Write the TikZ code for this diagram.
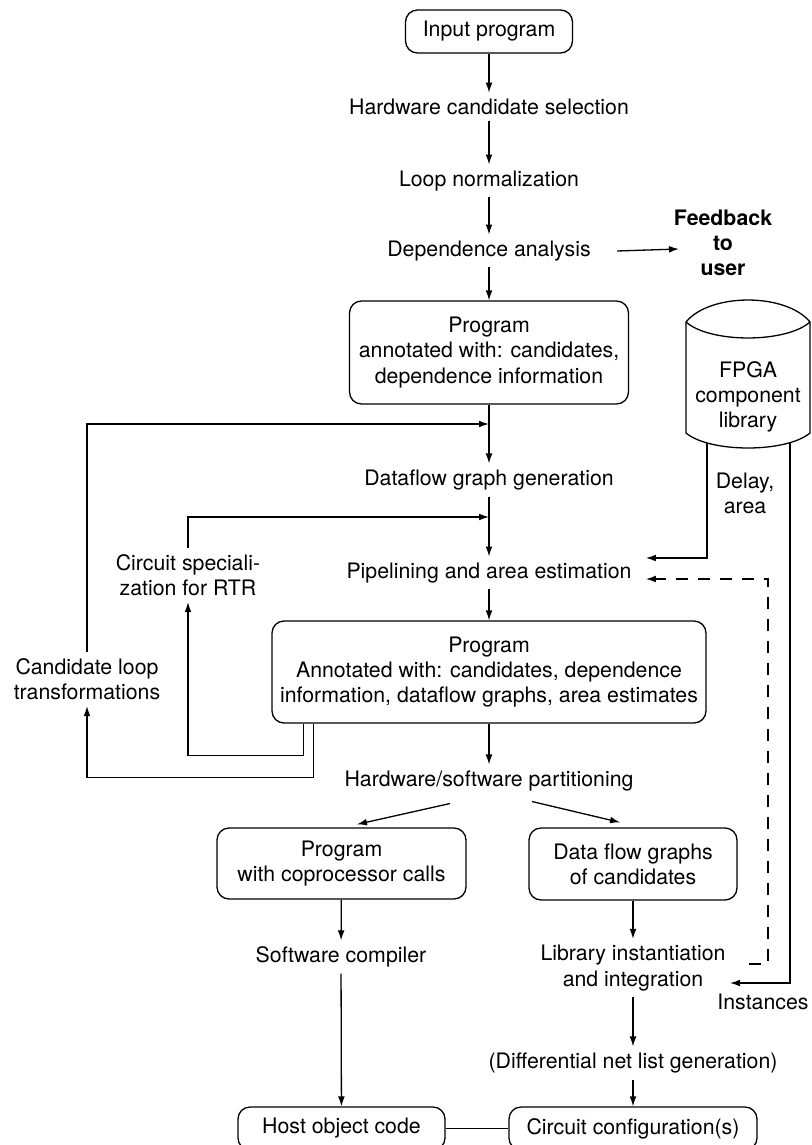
\documentclass[tikz,border=0pt]{standalone}
\usepackage{fontspec}
\setmainfont{TeX Gyre Heros}
\usetikzlibrary{arrows.meta,calc}
\tikzset{
  rbox/.style  = {rectangle, rounded corners=6pt, draw, line width=0.65pt, align=center},
  stage/.style = {align=center, inner sep=3pt},
  flow/.style  = {line width=0.65pt, -{Latex[length=5pt,width=3.4pt]}},
  wire/.style  = {line width=0.65pt},
  fbk/.style   = {flow, dash pattern=on 6pt off 5pt}
}

\begin{document}
\begin{tikzpicture}[x=0.5pt, y=-0.5pt, font=\fontsize{10.65}{12.6}\selectfont]
  \useasboundingbox (0,0) rectangle (811,1145);
  % main column
  \node[rbox, minimum width=83.5pt, minimum height=21.5pt] (inp) at (489,31.5) {Input program};
  \node[stage] (hwsel) at (489,107) {Hardware candidate selection};
  \node[stage] (loopn) at (489,181) {Loop normalization};
  \node[stage] (depan) at (489,251) {Dependence analysis};
  \node[stage, font=\fontsize{10.65}{12.6}\selectfont\bfseries] (fback) at (723,243) {Feedback\\to\\user};
  \node[rbox, minimum width=139.5pt, minimum height=51.5pt] (prog1) at (489,352.5)
       {Program\\annotated with: candidates,\\dependence information};
  \node[stage] (dfg)   at (489,480) {Dataflow graph generation};
  \node[stage] (pipe)  at (489,573) {Pipelining and area estimation};
  \node[rbox, minimum width=217pt, minimum height=51pt] (prog2) at (489,672)
       {Program\\Annotated with: candidates, dependence\\information, dataflow graphs, area estimates};
  \node[stage] (cspec) at (188,575) {Circuit speciali-\\zation for RTR};
  \node[stage] (cloop) at (87,679)  {Candidate loop\\transformations};
  \node[stage] (hwsw)  at (489,781) {Hardware/software partitioning};
  % software and hardware branches
  \node[rbox, minimum width=124.5pt, minimum height=35.5pt] (progc) at (341.5,863.5) {Program\\with coprocessor calls};
  \node[rbox, minimum width=104pt, minimum height=36pt] (dfgc) at (633,864) {Data flow graphs\\of candidates};
  \node[stage] (swc)   at (341,957)  {Software compiler};
  \node[stage] (libin) at (633,968)  {Library instantiation\\and integration};
  \node[stage] (difn)  at (633,1063) {(Differential net list generation)};
  \node[rbox, minimum width=103.5pt, minimum height=21.5pt] (host) at (341.5,1128.5) {Host object code};
  \node[rbox, minimum width=124pt, minimum height=21.5pt] (cconf) at (633,1128.5) {Circuit configuration(s)};

  % FPGA library drum
  \draw[wire] (686,322) .. controls (710,292.7) and (786,292.7) .. (810,322) -- (810,433)
              .. controls (786,453) and (710,453) .. (686,433) -- cycle;
  \draw[wire] (686,322) .. controls (710,343.3) and (786,343.3) .. (810,322);
  \node[stage] (fpga)  at (748,397) {FPGA\\component\\library};
  \node[stage] (delay) at (745,493) {Delay,\\area};
  \node[stage] (inst)  at (763,1002) {Instances};
  \coordinate (libD) at (707,443);
  \coordinate (libI) at (790,443);

  % connectors
  \draw[flow] (inp) -- (hwsel);
  \draw[flow] (hwsel) -- (loopn);
  \draw[flow] (loopn) -- (depan);
  \draw[flow] (depan) -- (prog1);
  \coordinate (fbin) at ($(fback.center)+(-44,6)$);
  \draw[flow] ([xshift=10pt]depan.east) -- (fbin);
  \draw[flow] (prog1) -- (dfg);
  \draw[flow] (dfg) -- (pipe);
  \draw[flow] (pipe) -- (prog2);
  \draw[flow] (prog2) -- (hwsw);
  \coordinate (j1) at (489,424);
  \coordinate (j2) at (489,517);
  \draw[flow] (cloop) |- (j1);
  \draw[flow] (cspec) |- (j2);
  \draw[flow] ([xshift=16pt]prog2.south west) -- ++(0,32) -| (cspec);
  \draw[flow] ([xshift=21pt]prog2.south west) -- ++(0,54) -| (cloop);
  \draw[flow] ($(hwsw.south)+(-39,6)$) -- ($(progc.north)+(15.5,-3)$);
  \draw[flow] ($(hwsw.south)+(43,4)$) -- ($(dfgc.north)+(-13,-5)$);
  \draw[flow] (progc) -- (swc);
  \draw[flow] (swc) -- (host);
  \draw[flow] (dfgc) -- (libin);
  \draw[flow] (libin) -- (difn);
  \draw[flow] (difn) -- (cconf);
  \draw[wire] (host) -- (cconf);
  \draw[flow] (libD) |- ($(pipe.east)+(8,-15)$);
  \draw[flow] (libI) |- ($(libin.center)+(97,15)$);
  \draw[fbk] ($(libin.center)+(116,-4)$) -| (768,579) -- ($(pipe.east)+(8,6)$);
\end{tikzpicture}
\end{document}
